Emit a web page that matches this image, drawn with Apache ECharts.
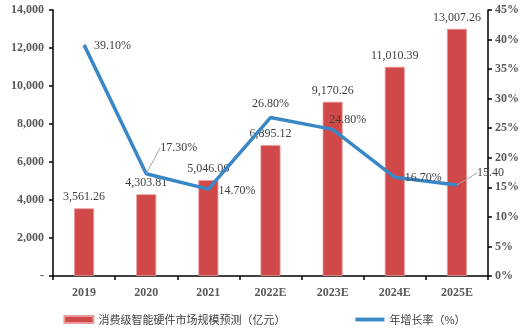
<!DOCTYPE html>
<html><head><meta charset="utf-8">
<script src="https://cdn.jsdelivr.net/npm/echarts@6/dist/echarts.min.js"></script>
<style>html,body{margin:0;padding:0;background:#fff}#c{width:529px;height:334px}</style>
</head><body><div id="c"></div>
<script>
var categories = ['2019','2020','2021','2022E','2023E','2024E','2025E'];
var marketSize = [3561.26, 4303.81, 5046.06, 6895.12, 9170.26, 11010.39, 13007.26];
var growthRate = [39.10, 17.30, 14.70, 26.80, 24.80, 16.70, 15.40];
var growthLabels = ['39.10%','17.30%','14.70%','26.80%','24.80%','16.70%','15.40'];
var leftTicks = {min:0, max:14000, interval:2000};
var rightTicks = {min:0, max:45, interval:5};

var serif = 'Liberation Serif';
var chart = echarts.init(document.getElementById('c'));
var linePos = [
  {position:'right', distance:10, dx:0, dy:1},
  {position:'right', distance:8, dx:6, dy:-26, line:true},
  {position:'right', distance:10, dx:0, dy:2},
  {position:'top', distance:8, dx:0, dy:0},
  {position:'top', distance:6, dx:15, dy:2},
  {position:'right', distance:10, dx:0, dy:1},
  {position:'right', distance:8, dx:12, dy:-12, line:true}
];
var lineData = growthRate.map(function(v,i){
  var p = linePos[i];
  var item = {value:v, label:{position:p.position, distance:p.distance}};
  item.labelLine = {show:!!p.line, lineStyle:{color:'#a6a6a6', width:1}};
  return item;
});
chart.setOption({
  animation:false,
  grid:{left:53, right:41, top:10, bottom:58},
  legend:{
    bottom:4, left:'center', itemGap:70, itemWidth:29, itemHeight:7,
    textStyle:{fontFamily:'Noto Sans CJK SC', fontSize:11, color:'#404040'},
    data:[{name:'消费级智能硬件市场规模预测（亿元）', icon:'rect'},
          {name:'年增长率（%）', icon:'path://M0,0H30V4H0Z'}]
  },
  xAxis:{
    type:'category', data:categories,
    axisLine:{lineStyle:{color:'#000', width:1.5}},
    axisTick:{show:true, length:4, lineStyle:{color:'#000', width:1.5}},
    axisLabel:{fontFamily:serif, fontWeight:'bold', fontSize:12, color:'#595959', margin:11}
  },
  yAxis:[{
    type:'value', min:leftTicks.min, max:leftTicks.max, interval:leftTicks.interval,
    splitLine:{show:false},
    axisLine:{show:true, lineStyle:{color:'#000', width:1.5}},
    axisTick:{show:true, length:4, lineStyle:{color:'#000', width:1.5}},
    axisLabel:{fontFamily:serif, fontWeight:'bold', fontSize:12, color:'#595959', margin:9,
      formatter:function(v){return v===0?'-':v.toLocaleString('en-US');}}
  },{
    type:'value', min:rightTicks.min, max:rightTicks.max, interval:rightTicks.interval,
    splitLine:{show:false},
    axisLine:{show:true, lineStyle:{color:'#000', width:1.5}},
    axisTick:{show:true, length:4, lineStyle:{color:'#000', width:1.5}},
    axisLabel:{fontFamily:serif, fontWeight:'bold', fontSize:12, color:'#595959', margin:7,
      formatter:function(v){return v+'%';}}
  }],
  series:[{
    name:'消费级智能硬件市场规模预测（亿元）', type:'bar', data:marketSize, barWidth:20,
    itemStyle:{color:'#d14848', borderColor:'#e89a9a', borderWidth:0.8},
    label:{show:true, position:'top', distance:5, fontFamily:serif, fontSize:12, color:'#404040',
      formatter:function(p){return p.value.toLocaleString('en-US',{minimumFractionDigits:2, maximumFractionDigits:2});}},
    z:2
  },{
    name:'年增长率（%）', type:'line', yAxisIndex:1, data:lineData,
    symbol:'circle', symbolSize:0.1, showSymbol:true,
    lineStyle:{color:'#3a87c7', width:3.5}, itemStyle:{color:'#3a87c7'},
    label:{show:true, fontFamily:serif, fontSize:12, color:'#404040',
      formatter:function(p){return growthLabels[p.dataIndex];}},
    labelLayout:function(p){
      var o = linePos[p.dataIndex];
      return {dx:o.dx, dy:o.dy, hideOverlap:false};
    },
    z:3
  }]
});
</script></body></html>
